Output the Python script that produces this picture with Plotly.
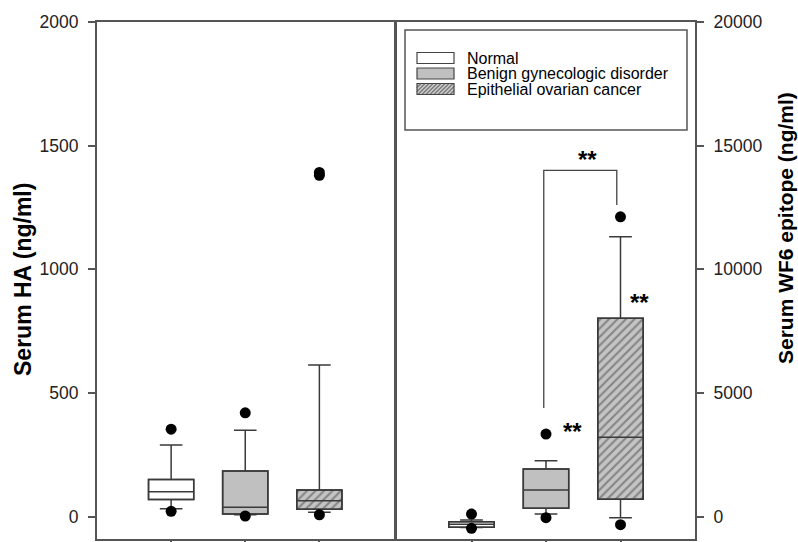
import plotly.graph_objects as go

# ---------------- data ----------------
groups = ["Normal", "Benign gynecologic disorder", "Epithelial ovarian cancer"]
positions = [1, 2, 3]

# Serum HA (ng/ml)
ha_lowerfence = [32, 8, 18]
ha_q1 = [70, 11, 30]
ha_median = [101, 38, 65]
ha_q3 = [151, 185, 108]
ha_upperfence = [290, 350, 613]
ha_outlier_x = [1, 1, 2, 2, 3, 3, 3]
ha_outlier_y = [354, 22, 420, 3, 1380, 1392, 8]

# Serum WF6 epitope (ng/ml)
wf_lowerfence = [-440, 109, -40]
wf_q1 = [-430, 340, 703]
wf_median = [-300, 1079, 3209]
wf_q3 = [-200, 1928, 8020]
wf_upperfence = [-130, 2264, 11318]
wf_outlier_x = [1, 1, 2, 2, 3, 3]
wf_outlier_y = [110, -470, 3343, -40, 12126, -323]

ha_ticks = [0, 500, 1000, 1500, 2000]
wf_ticks = [0, 5000, 10000, 15000, 20000]

# significance annotations (WF6 panel)
bracket_left_x, bracket_right_x = 1.97, 2.95
bracket_top = 14000
bracket_left_bottom = 4400
bracket_right_bottom = 12600
star_label = "**"
star_positions = [(2.56, 14450), (2.36, 3450), (3.25, 8650)]

# ---------------- style ----------------
FONT = "Liberation Sans, Arial, sans-serif"
fills = ["#ffffff", "#c0c0c0", "#c4c4c4"]
shapes_pat = ["", "", "/"]
LINE = "#3a3a3a"
W, H = 798, 542
L, R, T, B = 97, 103, 22, 3
PW, PH = W - L - R, H - T - B


def px(xp):
    return (xp - L) / PW


def py(yp):
    return (H - B - yp) / PH


fig = go.Figure()

panels = [
    ("x", "y", ha_q1, ha_median, ha_q3, ha_lowerfence, ha_upperfence, ha_outlier_x, ha_outlier_y),
    ("x2", "y2", wf_q1, wf_median, wf_q3, wf_lowerfence, wf_upperfence, wf_outlier_x, wf_outlier_y),
]

for xa, ya, q1, med, q3, lf, uf, ox, oy in panels:
    fig.add_trace(go.Bar(
        x=positions, base=q1, y=[b - a for a, b in zip(q1, q3)],
        width=0.61, xaxis=xa, yaxis=ya, showlegend=False, hoverinfo="skip",
        marker=dict(color=fills, line=dict(color=LINE, width=1.5),
                    pattern=dict(shape=shapes_pat, fillmode="overlay",
                                 fgcolor="#333333", size=6, solidity=0.35)),
    ))
    fig.add_trace(go.Box(
        x=positions, q1=q1, median=med, q3=q3, lowerfence=lf, upperfence=uf,
        width=0.61, whiskerwidth=0.5, boxpoints=False, xaxis=xa, yaxis=ya,
        fillcolor="rgba(0,0,0,0)", line=dict(color=LINE, width=1.5),
        showlegend=False,
    ))
    fig.add_trace(go.Scatter(
        x=ox, y=oy, mode="markers", xaxis=xa, yaxis=ya, showlegend=False,
        marker=dict(color="black", size=11),
    ))

# bracket
fig.add_trace(go.Scatter(
    x=[bracket_left_x, bracket_left_x, bracket_right_x, bracket_right_x],
    y=[bracket_left_bottom, bracket_top, bracket_top, bracket_right_bottom],
    mode="lines", line=dict(color="#444", width=1.3), xaxis="x2", yaxis="y2",
    showlegend=False, hoverinfo="skip",
))

for sx, sy in star_positions:
    fig.add_annotation(x=sx, y=sy, xref="x2", yref="y2", text="<b>" + star_label + "</b>",
                       showarrow=False, xanchor="center", yanchor="middle",
                       font=dict(family=FONT, size=24, color="black"))

axis_common = dict(showline=True, linecolor="#555", linewidth=2, mirror=True,
                   showgrid=False, zeroline=False, ticks="outside", tickcolor="#555",
                   tickwidth=1.5, automargin=False)

fig.update_layout(
    width=W, height=H,
    margin=dict(l=L, r=R, t=T, b=B),
    paper_bgcolor="white", plot_bgcolor="white",
    barmode="overlay", boxmode="overlay",
    showlegend=False,
    xaxis=dict(domain=[0, px(393.5)], range=[0, 4], tickvals=positions, showticklabels=False,
               ticklen=6, anchor="y", **axis_common),
    yaxis=dict(range=[-90, 2000], tickvals=ha_ticks, ticklen=7, anchor="x", tickformat="d",
               ticklabelstandoff=6,
               tickfont=dict(family=FONT, size=17.5, color="#222"), **axis_common),
    xaxis2=dict(domain=[px(397), 1], range=[0, 4], tickvals=positions, showticklabels=False,
                ticklen=6, anchor="y2", **axis_common),
    yaxis2=dict(range=[-900, 20000], tickvals=wf_ticks, ticklen=7, anchor="x2", side="right",
                tickformat="d", ticklabelstandoff=6,
                tickfont=dict(family=FONT, size=17.5, color="#222"), **axis_common),
)

# axis titles
fig.add_annotation(x=px(23), y=py(280), xref="paper", yref="paper", text="<b>Serum HA (ng/ml)</b>",
                   textangle=-90, showarrow=False, xanchor="center", yanchor="middle",
                   font=dict(family=FONT, size=23, color="black"))
fig.add_annotation(x=px(785), y=py(228), xref="paper", yref="paper",
                   text="<b>Serum WF6 epitope (ng/ml)</b>", xanchor="center", yanchor="middle",
                   textangle=-90, showarrow=False, font=dict(family=FONT, size=21, color="black"))

# manual legend
shapes = [dict(type="rect", xref="paper", yref="paper", x0=px(405), x1=px(687), y0=py(130), y1=py(30),
               line=dict(color="#555", width=1.5), fillcolor="white", layer="above")]
row_centers = [58, 73.5, 89]
sw_x0, sw_x1 = 417, 454
for i, (name, c) in enumerate(zip(groups, fills)):
    yc = row_centers[i]
    shapes.append(dict(type="rect", xref="paper", yref="paper", x0=px(sw_x0), x1=px(sw_x1),
                       y0=py(yc + 5.5), y1=py(yc - 5.5), fillcolor=c,
                       line=dict(color="#444", width=1.2), layer="above"))
    if shapes_pat[i] == "/":
        path = ""
        xs = sw_x0 - 11
        while xs < sw_x1:
            xa0, ya0 = xs, yc + 5.5
            xa1, ya1 = xs + 11, yc - 5.5
            if xa0 < sw_x0:
                ya0 -= (sw_x0 - xa0)
                xa0 = sw_x0
            if xa1 > sw_x1:
                ya1 += (xa1 - sw_x1)
                xa1 = sw_x1
            path += f"M{px(xa0)},{py(ya0)} L{px(xa1)},{py(ya1)} "
            xs += 4
        shapes.append(dict(type="path", xref="paper", yref="paper", path=path,
                           line=dict(color="#444", width=1), layer="above"))
    fig.add_annotation(x=px(465), y=py(yc), xref="paper", yref="paper", text=name,
                       xanchor="left", yanchor="middle", showarrow=False,
                       font=dict(family=FONT, size=16, color="black"))
fig.update_layout(shapes=shapes)

fig.write_html("out.html", config={"displayModeBar": False},
               post_script="document.body.style.margin='0';")
